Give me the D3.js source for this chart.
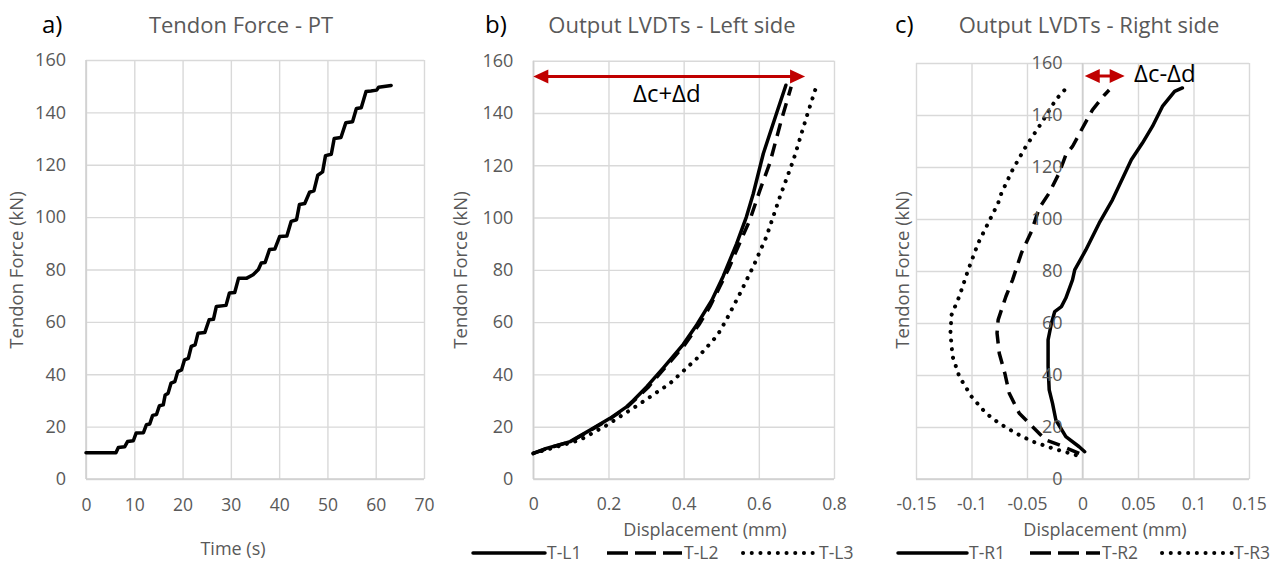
<!DOCTYPE html>
<html>
<head>
<meta charset="utf-8">
<style>
  body { margin: 0; background: #ffffff; }
  text { font-family: "Open Sans", "Noto Sans", sans-serif; }
</style>
<script src="https://cdn.jsdelivr.net/npm/d3@7/dist/d3.min.js"></script>
</head>
<body>
<div id="chart"></div>
<script>

// a) tendon force vs time  [t (s), F (kN)]
var forcePT = [[0,10],[6.2,10],[6.7,12],[8.0,12.3],[8.6,14.3],[9.8,14.6],[10.4,17.6],[11.9,17.7],
  [12.5,20.7],[13.2,21],[13.8,24.3],[14.6,24.6],[15.2,28],[16.0,28.3],[16.4,32.1],[17.0,32.7],
  [17.6,36.6],[18.4,37.2],[19.0,41],[19.8,41.7],[20.4,45.5],[21.2,46.1],[21.8,50.6],[22.6,51.2],
  [23.2,55.7],[24.6,55.9],[25.5,60.8],[26.4,61],[27.0,65.9],[29.0,66.3],[29.7,71],[30.8,71.2],
  [31.6,76.7],[33.3,76.7],[34.6,78],[35.7,80],[36.3,82.5],[37.1,82.7],[38.0,87.6],[39.1,87.8],
  [40.1,92.6],[41.6,92.8],[42.5,98.4],[43.6,99],[44.2,104.8],[45.3,105.2],[46.3,109.5],[47.2,110],
  [48.0,116],[49.0,117.3],[49.6,123.5],[50.8,124],[51.4,130],[52.8,130.4],[53.8,136],[55.2,136.4],
  [56.0,141.5],[57.0,141.8],[58.0,148],[59.0,148.2],[60.2,148.5],[60.6,149.6],[63.2,150.3]];

// b) left side LVDTs  [disp (mm), F (kN)]
var tL1 = [[0,9.8],[0.035,11.7],[0.098,14.3],[0.151,18.7],[0.204,23.2],[0.248,27.6],[0.266,30],
  [0.302,35.3],[0.346,42.5],[0.399,51.5],[0.435,59],[0.475,68.4],[0.505,77.5],[0.541,90],
  [0.567,100.3],[0.585,109],[0.612,124.5],[0.647,139.8],[0.672,150.6]];
var tL2 = [[0,9.8],[0.035,11.6],[0.098,14.2],[0.151,18.5],[0.204,23],[0.25,27.5],[0.305,35],
  [0.35,42.5],[0.40,50.8],[0.443,59.5],[0.47,66],[0.496,73.5],[0.52,80.5],[0.541,87.6],
  [0.576,99],[0.603,110.5],[0.629,120.7],[0.66,137.3],[0.686,150]];
var tL3 = [[0,9.8],[0.05,11.8],[0.124,14.9],[0.196,20.6],[0.285,28.9],[0.364,36.6],[0.435,46.1],
  [0.49,55],[0.514,61],[0.55,71],[0.585,81.2],[0.62,92.6],[0.656,107.9],[0.692,122],
  [0.727,138.5],[0.754,150.6]];

// c) right side LVDTs
var tR1 = [[0.002,10.5],[-0.003,12.4],[-0.015,16.3],[-0.024,22.7],[-0.027,29.1],[-0.030,34.3],
  [-0.031,43.2],[-0.031,53.5],[-0.028,59.9],[-0.025,64.4],[-0.019,66.3],[-0.015,69.6],
  [-0.009,76.6],[-0.007,80.4],[0.003,88.1],[0.015,98.4],[0.027,107.4],[0.044,122.8],
  [0.054,129.2],[0.063,135.6],[0.072,143.3],[0.083,149.1],[0.090,150.4]];
var tR2 = [[-0.003,9.9],[-0.021,13.1],[-0.033,15],[-0.045,20.1],[-0.057,25.3],[-0.066,33],
  [-0.070,40.7],[-0.075,48.4],[-0.077,56.1],[-0.076,61.2],[-0.069,70.2],[-0.063,76.6],
  [-0.055,86.9],[-0.046,95.2],[-0.039,104.2],[-0.030,110],[-0.021,117.7],[-0.015,124.7],
  [-0.009,127.9],[0.0,135],[0.009,142],[0.020,147.8],[0.024,149.6]];
var tR3 = [[-0.006,9.2],[-0.027,11.8],[-0.045,14.4],[-0.06,17.6],[-0.075,21.4],[-0.087,25.3],
  [-0.100,31.7],[-0.111,39.4],[-0.117,47.1],[-0.119,56.1],[-0.118,63.1],[-0.111,70.2],
  [-0.103,80.4],[-0.094,90.7],[-0.085,98.4],[-0.076,106.1],[-0.073,110],[-0.063,118.9],
  [-0.051,127.9],[-0.037,136.9],[-0.024,145.9],[-0.016,149.7]];

var ticksTime = [0, 10, 20, 30, 40, 50, 60, 70];
var ticksLeft = [0, 0.2, 0.4, 0.6, 0.8];
var ticksRight = [-0.15, -0.1, -0.05, 0, 0.05, 0.1, 0.15];
var ticksForce = [0, 20, 40, 60, 80, 100, 120, 140, 160];

var namesLeft = ["T-L1", "T-L2", "T-L3"];
var namesRight = ["T-R1", "T-R2", "T-R3"];

// arrows: [x from, x to, force level]
var arrowLeft = [0, 0.723, 154];
var arrowRight = [0.002, 0.038, 155];

var grey = "#595959", gridCol = "#d9d9d9", red = "#c00000";

var svg = d3.select("#chart").append("svg")
    .attr("width", 1284)
    .attr("height", 564);

var styles = [
    {dash: null, cap: "round", w: 3.5},
    {dash: "13,8", cap: "butt", w: 3.5},
    {dash: "0.1,8.6", cap: "round", w: 4}
];

function panel(opt) {

    var x = d3.scaleLinear().domain(opt.xd).range(opt.xr);
    var y = d3.scaleLinear().domain([0, 160]).range(opt.yr);

    var g = svg.append("g");

    // grid
    g.append("g")
        .attr("transform", "translate(0," + opt.yr[0] + ")")
        .call(d3.axisBottom(x).tickValues(opt.xt).tickSize(-(opt.yr[0] - opt.yr[1])).tickFormat(""))
        .call(a => a.select(".domain").remove())
        .selectAll("line").attr("stroke", gridCol).attr("stroke-width", 1.4);

    g.append("g")
        .attr("transform", "translate(" + opt.xr[0] + ",0)")
        .call(d3.axisLeft(y).tickValues(ticksForce).tickSize(-(opt.xr[1] - opt.xr[0])).tickFormat(""))
        .call(a => a.select(".domain").remove())
        .selectAll("line").attr("stroke", gridCol).attr("stroke-width", 1.4);

    // x tick labels
    var xa = g.append("g")
        .attr("transform", "translate(0," + opt.yr[0] + ")")
        .call(d3.axisBottom(x).tickValues(opt.xt).tickSize(0).tickPadding(opt.xpad).tickFormat(d => String(d)));
    xa.select(".domain").remove();
    xa.selectAll("text").attr("fill", grey).style("font-size", "17.5px");

    // axis lines
    g.append("line")
        .attr("x1", opt.xr[0]).attr("x2", opt.xr[1])
        .attr("y1", y(0)).attr("y2", y(0))
        .attr("stroke", "#cfcfcf").attr("stroke-width", 1.5);
    var x0 = opt.yAt0 ? x(0) : opt.xr[0];
    g.append("line")
        .attr("x1", x0).attr("x2", x0)
        .attr("y1", opt.yr[0]).attr("y2", opt.yr[1])
        .attr("stroke", "#cfcfcf").attr("stroke-width", 1.5);

    var line = d3.line().x(d => x(d[0])).y(d => y(d[1]));

    opt.series.forEach(function(s, i) {
        var st = styles[i];
        g.append("path")
            .datum(s)
            .attr("fill", "none")
            .attr("stroke", "#000")
            .attr("stroke-width", st.w)
            .attr("stroke-linejoin", "round")
            .attr("stroke-linecap", st.cap)
            .attr("stroke-dasharray", st.dash)
            .attr("d", line);
    });

    // y tick labels (drawn over the lines, like the original)
    var ya = g.append("g")
        .attr("transform", "translate(" + x0 + ",0)")
        .call(d3.axisLeft(y).tickValues(ticksForce).tickSize(0).tickPadding(opt.ypad));
    ya.select(".domain").remove();
    ya.selectAll("text").attr("fill", grey).style("font-size", "18px");

    // titles
    svg.append("text")
        .attr("x", opt.letterX).attr("y", 33)
        .attr("fill", "#000").style("font-size", "24px")
        .text(opt.letter);
    svg.append("text")
        .attr("x", opt.titleX).attr("y", 33)
        .attr("text-anchor", "middle")
        .attr("fill", grey).style("font-size", "22px")
        .text(opt.title);

    svg.append("text")
        .attr("transform", "translate(" + opt.yTitleX + ",270) rotate(-90)")
        .attr("text-anchor", "middle")
        .attr("fill", grey).style("font-size", "18.5px")
        .text("Tendon Force (kN)");

    svg.append("text")
        .attr("x", opt.xTitle[0]).attr("y", opt.xTitle[1])
        .attr("text-anchor", "middle")
        .attr("fill", grey).style("font-size", "18px")
        .text(opt.xLabel);

    return {x: x, y: y, g: g};
}

function arrow(p, a, labelX, labelY, label) {
    var x1 = p.x(a[0]), x2 = p.x(a[1]), yy = p.y(a[2]);
    var L = 15, h = 7;
    p.g.append("line")
        .attr("x1", x1 + L - 2).attr("x2", x2 - L + 2)
        .attr("y1", yy).attr("y2", yy)
        .attr("stroke", red).attr("stroke-width", 3);
    p.g.append("path")
        .attr("d", "M" + x1 + "," + yy + "L" + (x1 + L) + "," + (yy - h) + "L" + (x1 + L) + "," + (yy + h) + "Z")
        .attr("fill", red);
    p.g.append("path")
        .attr("d", "M" + x2 + "," + yy + "L" + (x2 - L) + "," + (yy - h) + "L" + (x2 - L) + "," + (yy + h) + "Z")
        .attr("fill", red);
    p.g.append("text")
        .attr("x", labelX).attr("y", labelY)
        .attr("fill", "#000").style("font-size", "24px")
        .text(label);
}

function legend(names, items) {
    names.forEach(function(n, i) {
        var it = items[i], st = styles[i];
        svg.append("line")
            .attr("x1", it[0]).attr("x2", it[1])
            .attr("y1", 553).attr("y2", 553)
            .attr("stroke", "#000").attr("stroke-width", st.w)
            .attr("stroke-linecap", st.cap)
            .attr("stroke-dasharray", i == 1 ? "21,7" : st.dash);
        svg.append("text")
            .attr("x", it[1] + 2).attr("y", 559)
            .attr("fill", grey).style("font-size", "17.5px")
            .text(n);
    });
}

var pa = panel({
    xd: [0, 70], xr: [86, 424], yr: [479, 60], xt: ticksTime,
    series: [forcePT], xpad: 20, ypad: 20,
    letter: "a)", letterX: 42, title: "Tendon Force - PT", titleX: 241,
    yTitleX: 23, xTitle: [233, 555], xLabel: "Time (s)"
});

var pb = panel({
    xd: [0, 0.8], xr: [533.3, 834], yr: [479, 60.7], xt: ticksLeft,
    series: [tL1, tL2, tL3], xpad: 19, ypad: 20,
    letter: "b)", letterX: 485, title: "Output LVDTs - Left side", titleX: 672,
    yTitleX: 467, xTitle: [705, 536], xLabel: "Displacement (mm)"
});

var pc = panel({
    xd: [-0.15, 0.15], xr: [916, 1249], yr: [479, 63], xt: ticksRight, yAt0: true,
    series: [tR1, tR2, tR3], xpad: 19, ypad: 20,
    letter: "c)", letterX: 895, title: "Output LVDTs - Right side", titleX: 1089,
    yTitleX: 909, xTitle: [1105, 536], xLabel: "Displacement (mm)"
});

arrow(pb, arrowLeft, 633, 102, "Δc+Δd");
arrow(pc, arrowRight, 1134, 82, "Δc-Δd");

legend(namesLeft, [[473, 545], [607, 682], [743, 817]]);
legend(namesRight, [[898, 967], [1030, 1100], [1162, 1232]]);

</script>
</body>
</html>
